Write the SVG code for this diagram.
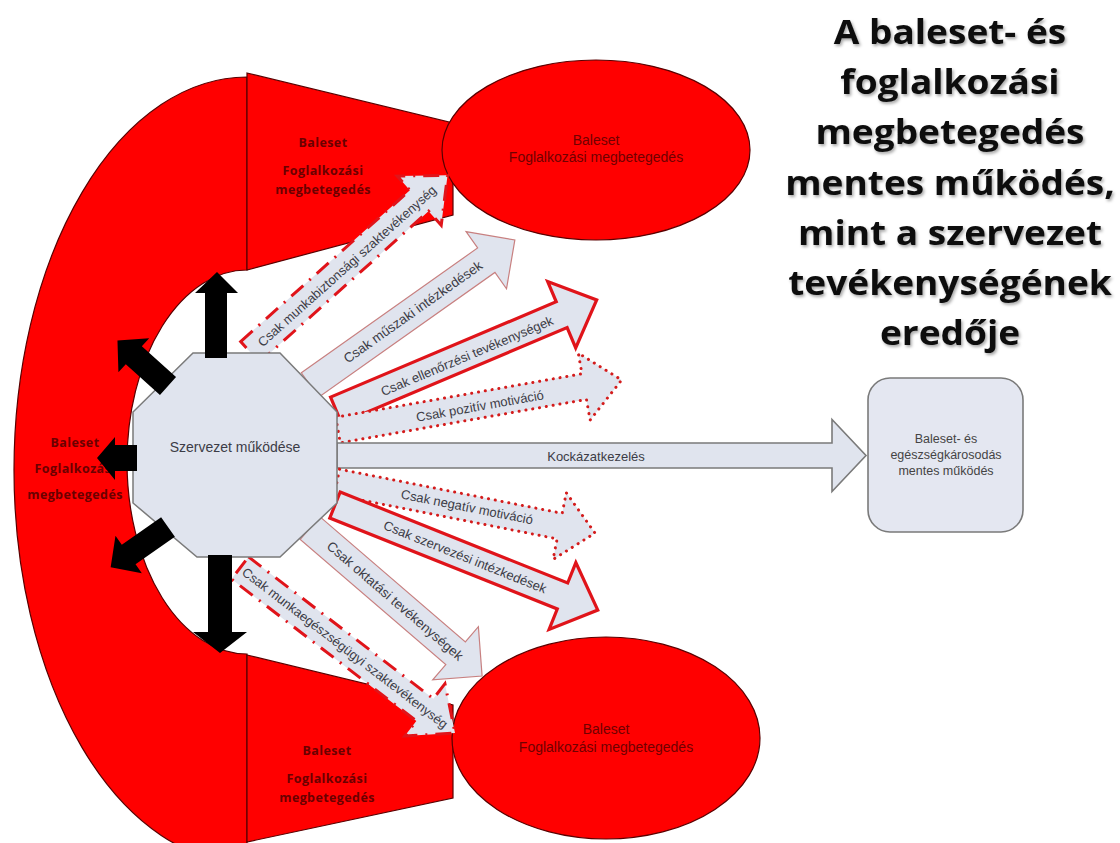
<svg xmlns="http://www.w3.org/2000/svg" width="1120" height="843" viewBox="0 0 1120 843">
<defs>
<style>
.red{fill:#ff0000;stroke:#5a0000;stroke-width:1.2}
.wtxt{font-family:"Open Sans","Liberation Sans",sans-serif;font-weight:700;font-size:12.5px;letter-spacing:0.4px;fill:#6a0000;text-anchor:middle;dominant-baseline:central}
.etxt{font-family:"Liberation Sans",Arial,sans-serif;font-size:14px;fill:#700000;text-anchor:middle;dominant-baseline:central}
.arr{fill:#e0e4ee}
.thin{stroke:#c88080;stroke-width:1.2}
.solid{stroke:#e0141a;stroke-width:3.2;stroke-linejoin:miter}
.dots{stroke:#d41c1c;stroke-width:3;stroke-dasharray:0.1 6.8;stroke-linecap:round}
.dashdot{stroke:#e0141a;stroke-width:3;stroke-dasharray:16 8 2 8}
.gray{stroke:#7a7a7a;stroke-width:1.6}
.lbl{font-family:"Liberation Sans",Arial,sans-serif;font-size:13px;fill:#3c3c46;text-anchor:middle;dominant-baseline:central}
.box{font-family:"Liberation Sans",Arial,sans-serif;font-size:12.5px;fill:#444;text-anchor:middle;dominant-baseline:central}
.blk{fill:#000}
.title{font-family:"Open Sans","Liberation Sans",sans-serif;font-weight:700;font-size:34px;fill:#111;text-anchor:middle}
</style>
<filter id="sh" x="-10%" y="-10%" width="120%" height="130%">
<feDropShadow dx="1.5" dy="2" stdDeviation="1.5" flood-color="#000" flood-opacity="0.35"/>
</filter>
</defs>
<rect width="1120" height="843" fill="#fff"/>

<g id="arc-left">
<path class="red" d="M247,77 A233,393 0 0 0 247,863 L247,654 A120,192 0 0 1 247,270 Z"/>
<text class="wtxt" x="75" y="442">Baleset</text>
<text class="wtxt" x="75" y="468">Foglalkozási</text>
<text class="wtxt" x="75" y="494">megbetegedés</text>
</g>

<g id="wedge-top">
<polygon class="red" points="247,73 453,123 453,215 247,270"/>
<text class="wtxt" x="323" y="142">Baleset</text>
<text class="wtxt" x="323" y="170">Foglalkozási</text>
<text class="wtxt" x="323" y="189">megbetegedés</text>
</g>

<g id="wedge-bottom">
<polygon class="red" points="247,655 453,705 453,798 247,842"/>
<text class="wtxt" x="327" y="750">Baleset</text>
<text class="wtxt" x="327" y="778">Foglalkozási</text>
<text class="wtxt" x="327" y="797">megbetegedés</text>
</g>

<g id="ellipse-top">
<ellipse class="red" cx="596" cy="150" rx="154" ry="90"/>
<text class="etxt" x="596" y="140">Baleset</text>
<text class="etxt" x="596" y="157">Foglalkozási megbetegedés</text>
</g>

<g id="ellipse-bottom">
<ellipse class="red" cx="606" cy="738" rx="154" ry="101"/>
<text class="etxt" x="606" y="729">Baleset</text>
<text class="etxt" x="606" y="747">Foglalkozási megbetegedés</text>
</g>

<g id="result-box">
<rect x="868" y="378" width="155" height="154" rx="22" fill="#e4e7f1" stroke="#7a7a7a" stroke-width="1.6"/>
<text class="box" x="946" y="439">Baleset- és</text>
<text class="box" x="946" y="455">egészségkárosodás</text>
<text class="box" x="946" y="471">mentes működés</text>
</g>

<g id="title" filter="url(#sh)">
<g transform="translate(950,0) scale(1.09,1)">
<text class="title" x="0" y="44">A baleset- és</text>
<text class="title" x="0" y="94">foglalkozási</text>
<text class="title" x="0" y="144">megbetegedés</text>
<text class="title" x="0" y="195">mentes működés,</text>
<text class="title" x="0" y="245">mint a szervezet</text>
<text class="title" x="0" y="295">tevékenységének</text>
<text class="title" x="0" y="345">eredője</text>
</g>
</g>

<g id="connectors">
<g id="arrow-munkabiztonsagi">
<path class="arr dashdot" transform="translate(250,352) rotate(-41.8)" d="M0,-14 H227 V-33 L265,0 L227,33 V14 H0 Z"/>
<text class="lbl" transform="translate(347,266) rotate(-41.8)">Csak munkabiztonsági szaktevékenység</text>
</g>
<g id="arrow-muszaki">
<path class="arr thin" transform="translate(310,385) rotate(-35.3)" d="M0,-15 H216 V-35 L251,0 L216,35 V15 H0 Z"/>
<text class="lbl" style="font-size:13.5px" transform="translate(413,312) rotate(-35.3)">Csak műszaki intézkedések</text>
</g>
<g id="arrow-ellenorzesi">
<path class="arr solid" transform="translate(336,410) rotate(-22.9)" d="M0,-14 H245 V-36 L283,0 L245,36 V14 H0 Z"/>
<text class="lbl" transform="translate(467,356) rotate(-22.9)">Csak ellenőrzési tevékenységek</text>
</g>
<g id="arrow-pozitiv">
<path class="arr dots" transform="translate(338,430) rotate(-10)" d="M0,-13 H250 V-34 L288,0 L250,34 V13 H0 Z"/>
<text class="lbl" transform="translate(480,406) rotate(-10)">Csak pozitív motiváció</text>
</g>
<g id="arrow-kockazat">
<path class="arr gray" transform="translate(337,455.5)" d="M0,-12.5 H495 V-36 L529,0 L495,36 V12.5 H0 Z"/>
<text class="lbl" x="596" y="456">Kockázatkezelés</text>
</g>
<g id="arrow-negativ">
<path class="arr dots" transform="translate(337,482) rotate(11.2)" d="M0,-13 H227 V-34 L263,0 L227,34 V13 H0 Z"/>
<text class="lbl" transform="translate(467,507) rotate(11.2)">Csak negatív motiváció</text>
</g>
<g id="arrow-szervezesi">
<path class="arr solid" transform="translate(335,505) rotate(21.8)" d="M0,-14 H245 V-36 L283,0 L245,36 V14 H0 Z"/>
<text class="lbl" transform="translate(465,557) rotate(21.8)">Csak szervezési intézkedések</text>
</g>
<g id="arrow-oktatasi">
<path class="arr thin" transform="translate(310,528) rotate(40.7)" d="M0,-15 H192 V-35 L227,0 L192,35 V15 H0 Z"/>
<text class="lbl" style="font-size:13.5px" transform="translate(395,601) rotate(40.7)">Csak oktatási tevékenységek</text>
</g>
<g id="arrow-munkaegeszsegugyi">
<path class="arr dashdot" transform="translate(240,568) rotate(37.5)" d="M0,-14 H233 V-33 L271,0 L233,33 V14 H0 Z"/>
<text class="lbl" transform="translate(345,648) rotate(37.5)">Csak munkaegészségügyi szaktevékenység</text>
</g>
</g>

<g id="octagon">
<polygon points="193,353 280,353 337,412 337,503 280,557 197,557 133,503 133,412" fill="#e0e4ee" stroke="#7a7a7a" stroke-width="1.5"/>
<text class="lbl" style="font-size:14px" x="235" y="447">Szervezet működése</text>
</g>

<g id="black-arrows">
<polygon class="blk" points="205,358 205,293 195,293 217,272 238,293 227,293 227,358"/>
<polygon class="blk" points="208,555 208,632 193,632 220,653 247,632 232,632 232,555"/>
<polygon class="blk" points="137,445 115,445 115,437 97,458 115,480 115,471 137,471"/>
<path class="blk" transform="translate(168,386) rotate(-138)" d="M0,-12 H46 V-23 L68,0 L46,23 V12 H0 Z"/>
<path class="blk" transform="translate(168,527) rotate(145)" d="M0,-12 H48 V-23 L70,0 L48,23 V12 H0 Z"/>
</g>
</svg>
